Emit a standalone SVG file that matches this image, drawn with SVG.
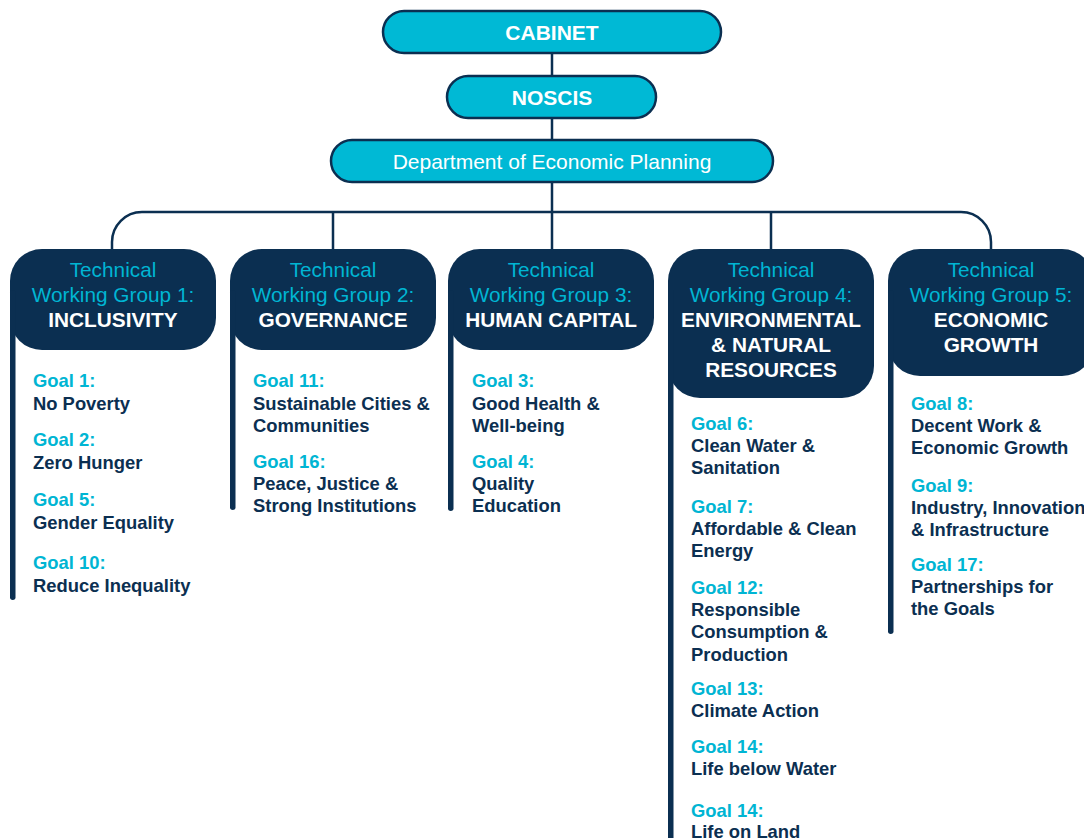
<svg xmlns="http://www.w3.org/2000/svg" width="1084" height="838" viewBox="0 0 1084 838">
<style>
.top{fill:#00b9d5;stroke:#0b2f51;stroke-width:2.5}
.toptxt{font-family:"Liberation Sans",Arial,sans-serif;font-size:21px;fill:#fff;text-anchor:middle}
.b{font-weight:bold}
.twg{fill:#0b2f51}
.tt{font-family:"Liberation Sans",Arial,sans-serif;font-size:20.8px;text-anchor:middle}
.tc{fill:#00b5d3}
.tw{fill:#fff;font-weight:bold}
.g{font-family:"Liberation Sans",Arial,sans-serif;font-size:18.4px;font-weight:bold}
.gl{fill:#00b5d3}
.gd{fill:#0b2f51}
.conn{fill:none;stroke:#0b2f51;stroke-width:2.5}
</style>
<rect width="1084" height="838" fill="#fff"/>
<g id="connectors">
<path class="conn" d="M552 53V212"/>
<path class="conn" d="M112 250V242A30 30 0 0 1 142 212H961A30 30 0 0 1 991 242V250"/>
<path class="conn" d="M333 212V250M552 212V250M771 212V250"/>
</g>
<g id="cabinet">
<rect class="top" x="383" y="11" width="338" height="42" rx="21"/>
<text class="toptxt b" x="552" y="39.5">CABINET</text>
</g>
<g id="noscis">
<rect class="top" x="447" y="76" width="209" height="42" rx="21"/>
<text class="toptxt b" x="552" y="104.5">NOSCIS</text>
</g>
<g id="dep">
<rect class="top" x="331" y="140" width="442" height="42" rx="21"/>
<text class="toptxt" x="552" y="168.5">Department of Economic Planning</text>
</g>
<g id="twg1">
<rect class="twg" x="10" y="249" width="206" height="101" rx="32"/>
<rect class="twg" x="10" y="290" width="5.5" height="310" rx="2.75"/>
<text class="tt tc" x="113" y="277">Technical</text>
<text class="tt tc" x="113" y="302">Working Group 1:</text>
<text class="tt tw" x="113" y="327">INCLUSIVITY</text>
<text class="g gl" x="33" y="387">Goal 1:</text>
<text class="g gd" x="33" y="409.5">No Poverty</text>
<text class="g gl" x="33" y="446">Goal 2:</text>
<text class="g gd" x="33" y="468.5">Zero Hunger</text>
<text class="g gl" x="33" y="506">Goal 5:</text>
<text class="g gd" x="33" y="528.5">Gender Equality</text>
<text class="g gl" x="33" y="569">Goal 10:</text>
<text class="g gd" x="33" y="591.5">Reduce Inequality</text>
</g>
<g id="twg2">
<rect class="twg" x="230" y="249" width="206" height="101" rx="32"/>
<rect class="twg" x="230" y="290" width="5.5" height="220" rx="2.75"/>
<text class="tt tc" x="333" y="277">Technical</text>
<text class="tt tc" x="333" y="302">Working Group 2:</text>
<text class="tt tw" x="333" y="327">GOVERNANCE</text>
<text class="g gl" x="253" y="387">Goal 11:</text>
<text class="g gd" x="253" y="409.5">Sustainable Cities &amp;</text>
<text class="g gd" x="253" y="431.5">Communities</text>
<text class="g gl" x="253" y="468">Goal 16:</text>
<text class="g gd" x="253" y="490">Peace, Justice &amp;</text>
<text class="g gd" x="253" y="512">Strong Institutions</text>
</g>
<g id="twg3">
<rect class="twg" x="448" y="249" width="206" height="101" rx="32"/>
<rect class="twg" x="448" y="290" width="5.5" height="221" rx="2.75"/>
<text class="tt tc" x="551" y="277">Technical</text>
<text class="tt tc" x="551" y="302">Working Group 3:</text>
<text class="tt tw" x="551" y="327">HUMAN CAPITAL</text>
<text class="g gl" x="472" y="387">Goal 3:</text>
<text class="g gd" x="472" y="409.5">Good Health &amp;</text>
<text class="g gd" x="472" y="431.5">Well-being</text>
<text class="g gl" x="472" y="468">Goal 4:</text>
<text class="g gd" x="472" y="490">Quality</text>
<text class="g gd" x="472" y="512">Education</text>
</g>
<g id="twg4">
<rect class="twg" x="668" y="249" width="206" height="149" rx="32"/>
<rect class="twg" x="668" y="290" width="5.5" height="560"/>
<text class="tt tc" x="771" y="277">Technical</text>
<text class="tt tc" x="771" y="302">Working Group 4:</text>
<text class="tt tw" x="771" y="327">ENVIRONMENTAL</text>
<text class="tt tw" x="771" y="352">&amp; NATURAL</text>
<text class="tt tw" x="771" y="377">RESOURCES</text>
<text class="g gl" x="691" y="430">Goal 6:</text>
<text class="g gd" x="691" y="452">Clean Water &amp;</text>
<text class="g gd" x="691" y="474">Sanitation</text>
<text class="g gl" x="691" y="513">Goal 7:</text>
<text class="g gd" x="691" y="535">Affordable &amp; Clean</text>
<text class="g gd" x="691" y="557">Energy</text>
<text class="g gl" x="691" y="594">Goal 12:</text>
<text class="g gd" x="691" y="616">Responsible</text>
<text class="g gd" x="691" y="638">Consumption &amp;</text>
<text class="g gd" x="691" y="661">Production</text>
<text class="g gl" x="691" y="695">Goal 13:</text>
<text class="g gd" x="691" y="717">Climate Action</text>
<text class="g gl" x="691" y="753">Goal 14:</text>
<text class="g gd" x="691" y="775">Life below Water</text>
<text class="g gl" x="691" y="817">Goal 14:</text>
<text class="g gd" x="691" y="838">Life on Land</text>
</g>
<g id="twg5">
<rect class="twg" x="888" y="249" width="206" height="127" rx="32"/>
<rect class="twg" x="888" y="290" width="5.5" height="344" rx="2.75"/>
<text class="tt tc" x="991" y="277">Technical</text>
<text class="tt tc" x="991" y="302">Working Group 5:</text>
<text class="tt tw" x="991" y="327">ECONOMIC</text>
<text class="tt tw" x="991" y="352">GROWTH</text>
<text class="g gl" x="911" y="410">Goal 8:</text>
<text class="g gd" x="911" y="431.5">Decent Work &amp;</text>
<text class="g gd" x="911" y="453.5">Economic Growth</text>
<text class="g gl" x="911" y="492">Goal 9:</text>
<text class="g gd" x="911" y="514">Industry, Innovation</text>
<text class="g gd" x="911" y="536">&amp; Infrastructure</text>
<text class="g gl" x="911" y="571">Goal 17:</text>
<text class="g gd" x="911" y="593">Partnerships for</text>
<text class="g gd" x="911" y="615">the Goals</text>
</g>
</svg>
